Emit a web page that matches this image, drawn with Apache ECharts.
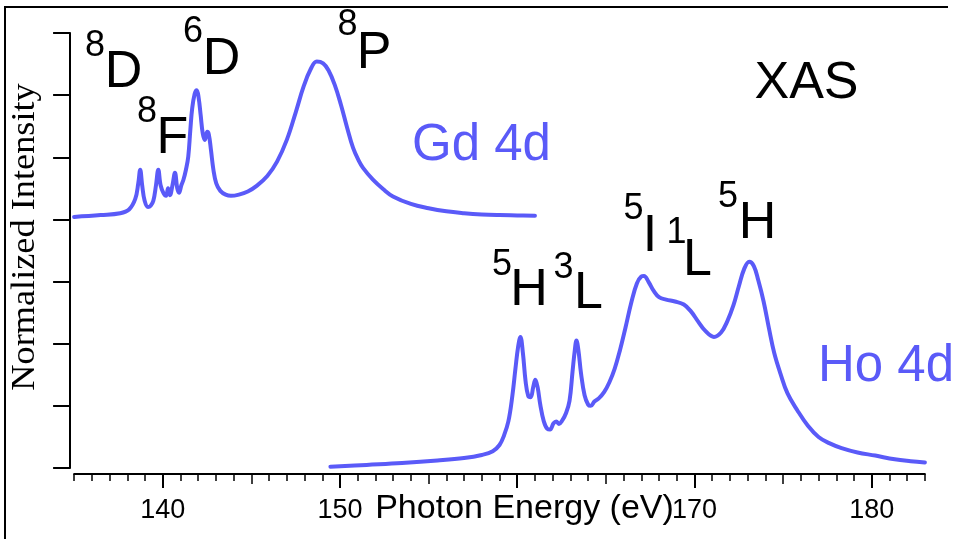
<!DOCTYPE html>
<html><head><meta charset="utf-8">
<script src="https://cdn.jsdelivr.net/npm/echarts@6/dist/echarts.min.js"></script>
<style>html,body{margin:0;padding:0;background:#fff}#c{width:966px;height:539px}</style>
</head><body><div id="c"></div>
<script>
// ---- data (photon energy in eV, normalized intensity in arbitrary units) ----
const gdEnergy = [135.0,136.5,137.6,138.1,138.45,138.62,138.73,138.84,138.98,139.17,139.32,139.47,139.62,139.75,139.88,140.05,140.19,140.30,140.41,140.55,140.69,140.82,140.92,141.05,141.16,141.31,141.44,141.56,141.66,141.80,141.92,142.03,142.14,142.26,142.38,142.51,142.60,142.72,142.86,143.02,143.25,143.55,143.85,144.3,144.8,145.3,145.9,146.45,147.0,147.5,147.95,148.35,148.69,149.05,149.35,149.7,150.05,150.4,150.74,151.05,151.30,151.86,152.43,152.99,154.0,155.0,156.0,157.0,158.0,159.0,160.0,161.0];
const gdIntensity = [4.04,4.07,4.10,4.16,4.33,4.58,4.80,4.55,4.30,4.20,4.22,4.30,4.55,4.80,4.55,4.42,4.38,4.50,4.39,4.55,4.75,4.50,4.43,4.55,4.63,4.80,5.01,5.45,5.78,6.02,6.08,5.95,5.68,5.38,5.28,5.41,5.37,5.12,4.80,4.58,4.46,4.40,4.38,4.40,4.45,4.54,4.70,4.93,5.28,5.72,6.14,6.42,6.54,6.51,6.40,6.17,5.85,5.48,5.15,4.95,4.83,4.64,4.49,4.37,4.25,4.18,4.13,4.10,4.08,4.07,4.065,4.06];
const hoEnergy = [149.46,151.5,153.5,155.5,157.0,158.0,158.62,159.0,159.25,159.5,159.72,159.9,160.05,160.18,160.32,160.47,160.62,160.76,160.9,161.02,161.15,161.3,161.5,161.7,161.85,162.05,162.2,162.35,162.55,162.75,162.95,163.12,163.25,163.34,163.45,163.6,163.8,164.0,164.15,164.35,164.6,164.9,165.2,165.5,165.8,166.1,166.45,166.75,167.0,167.15,167.4,167.7,168.0,168.4,168.9,169.4,169.8,170.2,170.6,171.1,171.5,171.85,172.2,172.5,172.8,173.09,173.35,173.6,173.9,174.2,174.5,174.85,175.25,175.8,176.4,177.0,177.6,178.3,179.2,180.2,181.3,182.2,183.0];
const hoIntensity = [0.02,0.05,0.08,0.12,0.16,0.21,0.27,0.37,0.52,0.75,1.15,1.60,1.95,2.11,1.85,1.40,1.16,1.14,1.30,1.42,1.30,1.02,0.75,0.63,0.62,0.72,0.75,0.71,0.77,0.88,1.08,1.55,1.90,2.05,1.90,1.52,1.17,1.02,1.00,1.07,1.12,1.22,1.38,1.60,1.90,2.25,2.68,2.97,3.08,3.09,3.00,2.85,2.75,2.71,2.68,2.63,2.52,2.36,2.21,2.11,2.18,2.36,2.62,2.92,3.20,3.32,3.25,3.02,2.68,2.25,1.85,1.52,1.20,0.93,0.68,0.50,0.40,0.32,0.25,0.20,0.14,0.11,0.09];
const tickLabels = [140,150,170,180];
const majorTicks = [140,150,160,170,180];
const midTicks = [145,155,165,175];
const xTitle = 'Photon Energy (eV)';
const yTitle = 'Normalized Intensity';
const seriesNames = ['Gd 4d','Ho 4d'];
const termTexts = ['8','D','8','F','6','D','8','P','5','H','3','L','5','I','1','L','5','H','XAS'];

// ---- layout / style (not data) ----
const BLUE = '#5a5af8';
const SANS = '"Liberation Sans", Arial, Helvetica, sans-serif';
const NARROW = '"Liberation Sans Narrow", "Arial Narrow", "Liberation Sans", Arial, sans-serif';
const SERIF = '"Liberation Serif", "Times New Roman", serif';
const BIG = 52, SUP = 36;
const termLayout = [
  [95,46,SUP],[123.5,73,BIG],[147,112.5,SUP],[172.5,138.5,BIG],[193,32.5,SUP],[221.5,60,BIG],
  [347.5,25,SUP],[374,53.5,BIG],[502,265.5,SUP],[529,291,BIG],[563.5,268.5,SUP],[588.5,294,BIG],
  [633.5,209.5,SUP],[650,236.5,BIG],[676.5,233,SUP],[697.5,260.5,BIG],[728,197.5,SUP],[757.5,224,BIG],
  [806.5,84,BIG]
];

function txt(t, x, y, size, color, family, extra) {
  const el = {type:'text', x:x, y:y, silent:true,
    style:{text:t, fill:color, fontSize:size, fontFamily:family,
      align:'center', verticalAlign:'middle', textAlign:'center', textVerticalAlign:'middle'}};
  return Object.assign(el, extra || {});
}

const graphics = [
  {type:'polyline', silent:true, shape:{points:[[948,7],[5,7],[5,539]]}, style:{stroke:'#000', lineWidth:2, fill:null}},
  txt(xTitle, 524.5, 509, 34, '#000', SANS),
  txt(yTitle, 25, 237, 33, '#000', SERIF, {rotation:Math.PI/2, scaleX:1.1}),
  txt(seriesNames[0], 481.5, 146, 51, BLUE, SANS),
  txt(seriesNames[1], 886, 366.5, 51, BLUE, SANS)
];
termTexts.forEach((t,i)=>{ const L = termLayout[i]; graphics.push(txt(t, L[0], L[1], L[2], '#000', SANS)); });

const axisBase = {type:'value', min:135, max:183, offset:6, position:'bottom', splitLine:{show:false}};
const chart = echarts.init(document.getElementById('c'), null, {renderer:'canvas'});
chart.setOption({
  animation:false,
  backgroundColor:'#fff',
  grid:{left:74.1, right:41.1, top:33, bottom:71, containLabel:false},
  xAxis:[
    Object.assign({}, axisBase, {interval:1,
      axisLine:{show:true, onZero:false, lineStyle:{color:'#000', width:2}},
      axisTick:{show:true, length:7, lineStyle:{color:'#000', width:1.5}},
      axisLabel:{show:false}}),
    Object.assign({}, axisBase, {interval:5,
      axisLine:{show:false, onZero:false},
      axisTick:{show:true, customValues:midTicks, length:10, lineStyle:{color:'#000', width:1.5}},
      axisLabel:{show:false}}),
    Object.assign({}, axisBase, {interval:5,
      axisLine:{show:false, onZero:false},
      axisTick:{show:true, customValues:majorTicks, length:14, lineStyle:{color:'#000', width:2}},
      axisLabel:{show:true, customValues:tickLabels, margin:23, fontSize:27, color:'#000', fontFamily:NARROW}})
  ],
  yAxis:{type:'value', min:0, max:7, interval:1, offset:4, position:'left',
    axisLine:{show:true, onZero:false, lineStyle:{color:'#000', width:2}},
    axisTick:{show:true, length:17, lineStyle:{color:'#000', width:2}},
    axisLabel:{show:false}, splitLine:{show:false}},
  series:[
    {name:seriesNames[0], type:'line', xAxisIndex:0, showSymbol:false, smooth:0.4,
     lineStyle:{color:BLUE, width:4, cap:'round', join:'round'}, data:gdEnergy.map((e,i)=>[e, gdIntensity[i]])},
    {name:seriesNames[1], type:'line', xAxisIndex:0, showSymbol:false, smooth:0.4,
     lineStyle:{color:BLUE, width:4, cap:'round', join:'round'}, data:hoEnergy.map((e,i)=>[e, hoIntensity[i]])}
  ],
  graphic:graphics
});
</script></body></html>
